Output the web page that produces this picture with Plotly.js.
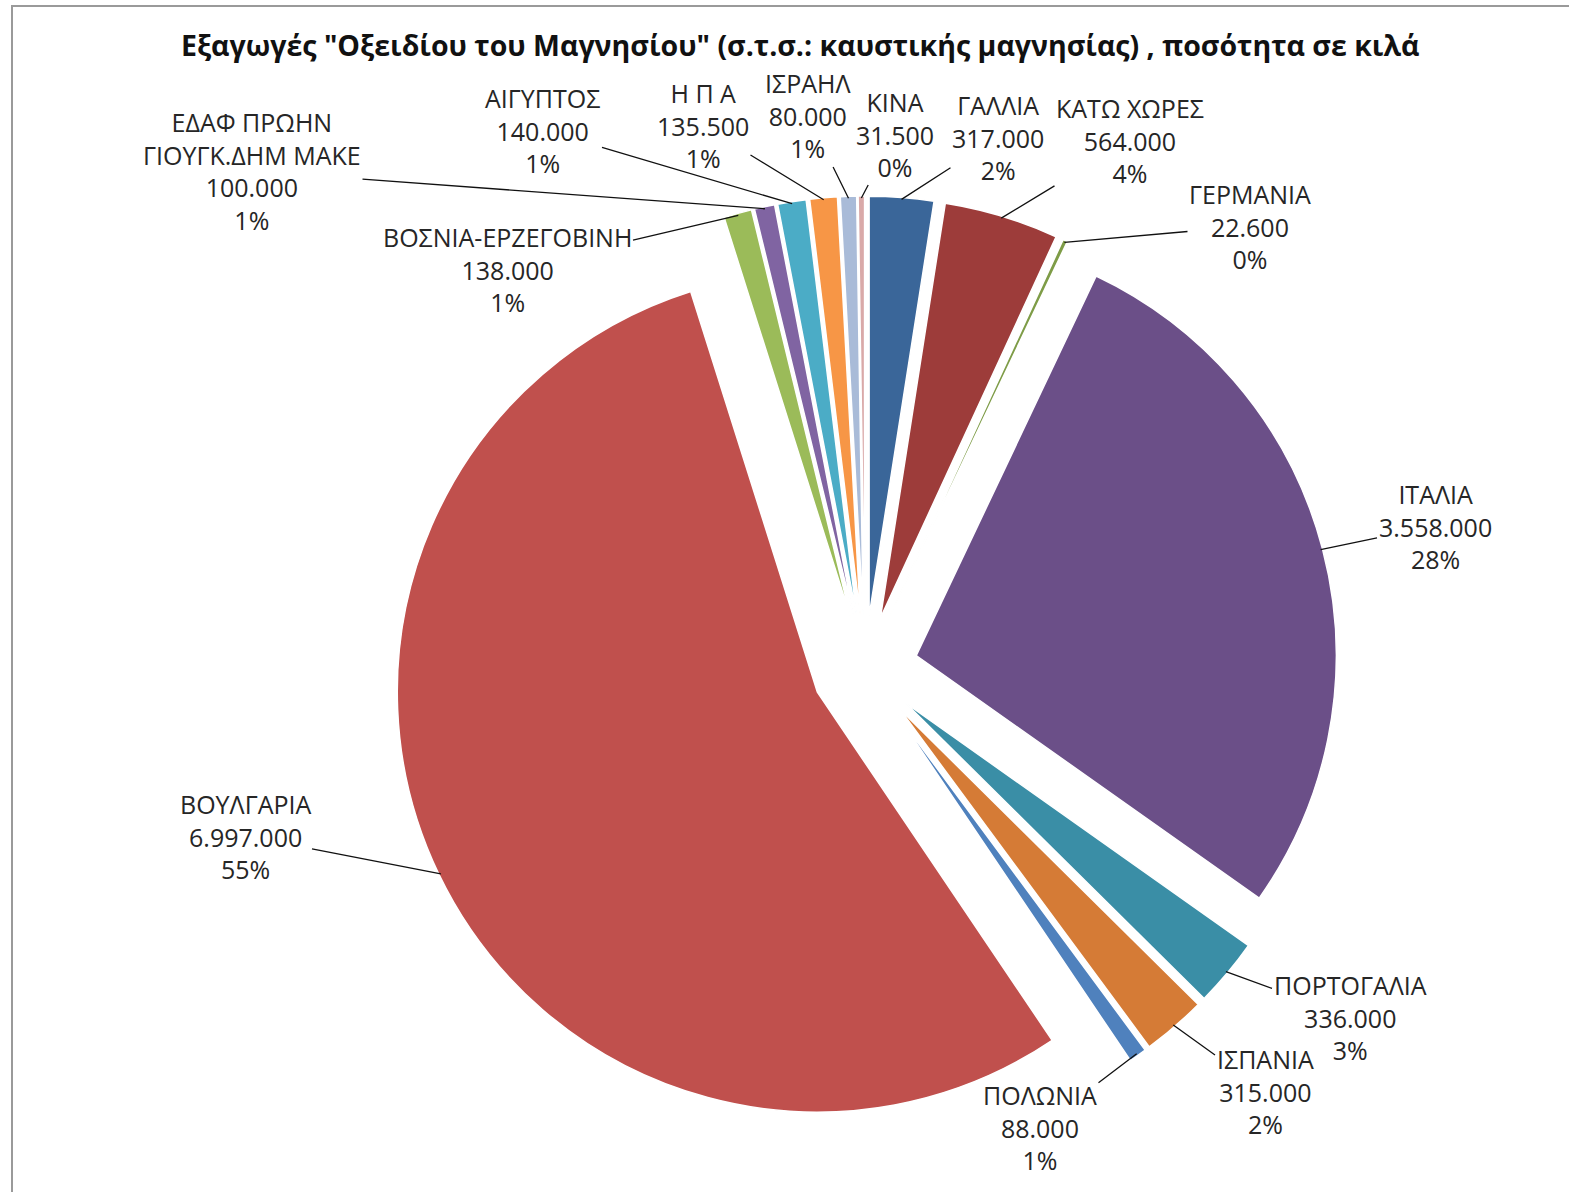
<!DOCTYPE html>
<html>
<head>
<meta charset="utf-8">
<script src="https://cdn.plot.ly/plotly-3.0.1.min.js"></script>
<style>html,body{margin:0;padding:0;background:#fff;}#chart{width:1569px;height:1192px;}</style>
</head>
<body>
<div id="chart"></div>
<script>
// ---- data ----
var categories = ["ΓΑΛΛΙΑ", "ΚΑΤΩ ΧΩΡΕΣ", "ΓΕΡΜΑΝΙΑ", "ΙΤΑΛΙΑ", "ΠΟΡΤΟΓΑΛΙΑ", "ΙΣΠΑΝΙΑ", "ΠΟΛΩΝΙΑ",
  "ΒΟΥΛΓΑΡΙΑ", "ΒΟΣΝΙΑ-ΕΡΖΕΓΟΒΙΝΗ", "ΕΔΑΦ ΠΡΩΗΝ<br>ΓΙΟΥΓΚ.ΔΗΜ ΜΑΚΕ", "ΑΙΓΥΠΤΟΣ", "Η Π Α", "ΙΣΡΑΗΛ", "ΚΙΝΑ"];
var values = [317000, 564000, 22600, 3558000, 336000, 315000, 88000,
  6997000, 138000, 100000, 140000, 135500, 80000, 31500];
var titleText = 'Εξαγωγές "Οξειδίου του Μαγνησίου" (σ.τ.σ.: καυστικής μαγνησίας) , ποσότητα σε κιλά';

// ---- style ----
var colors = ["#3A6699", "#9D3C3A", "#7E9C47", "#6B4F88", "#3A8EA6", "#D57B36", "#4F81BD",
  "#C0504D", "#9BBB59", "#8064A2", "#4BACC6", "#F79646", "#A9BBD8", "#D9A9A8"];
// label block centres (pixels)
var labelPos = [[998,137],[1130,140],[1250,226],[1435,526],[1350,1017],[1265,1091],[1040,1127],
  [245,836],[507,270],[252,171],[543,130],[703,126],[808,116],[895,134]];

var W = 1569, H = 1192;
var pull = 0.126;
var box = {x0: 392, x1: 1338, y0: 196, y1: 1142};

function fmt(v) {
  return String(v).replace(/\B(?=(\d{3})+(?!\d))/g, ".");
}

var total = values.reduce(function(a, b){ return a + b; }, 0);
var cx = (box.x0 + box.x1) / 2, cy = (box.y0 + box.y1) / 2;
var r = Math.min(box.x1 - box.x0, box.y1 - box.y0) / 2 / (1 + pull);

var annotations = [];
var cum = 0;
for (var i = 0; i < values.length; i++) {
  var mid = (cum + values[i] / 2) / total * 2 * Math.PI;
  cum += values[i];
  var dist = r * (1 + pull) - 2;
  var px = cx + dist * Math.sin(mid);
  var py = cy - dist * Math.cos(mid);
  var txt = categories[i] + "<br>" + fmt(values[i]) + "<br>" + Math.round(values[i] / total * 100) + "%";
  annotations.push({
    xref: "paper", yref: "paper",
    x: px / W, y: 1 - py / H,
    ax: labelPos[i][0] - px, ay: labelPos[i][1] - py,
    showarrow: true, arrowhead: 0, arrowwidth: 1.3, arrowcolor: "#111",
    standoff: 0, startstandoff: 0,
    text: txt, align: "center",
    font: {family: "Open Sans, Noto Sans, sans-serif", size: 25, color: "#262626"}
  });
}

var trace = {
  type: "pie",
  labels: categories,
  values: values,
  sort: false,
  direction: "clockwise",
  rotation: 0,
  pull: pull,
  textinfo: "none",
  hoverinfo: "label+value+percent",
  marker: {colors: colors, line: {color: "#ffffff", width: 1.5}},
  domain: {x: [box.x0 / W, box.x1 / W], y: [1 - box.y1 / H, 1 - box.y0 / H]},
  showlegend: false
};

var layout = {
  width: W, height: H,
  margin: {l: 0, r: 0, t: 0, b: 0},
  paper_bgcolor: "#ffffff",
  showlegend: false,
  title: {
    text: "<b>" + titleText + "</b>",
    x: 0.51, xanchor: "center", y: 1 - 46 / H, yanchor: "middle",
    font: {family: "Open Sans, Noto Sans, sans-serif", size: 28.5, color: "#111"}
  },
  annotations: annotations,
  shapes: [{
    type: "rect", xref: "paper", yref: "paper",
    x0: 12 / W, x1: 1.01, y0: -0.01, y1: 1 - 6 / H,
    line: {color: "#9a9a9a", width: 2}
  }]
};

Plotly.newPlot("chart", [trace], layout, {displayModeBar: false, staticPlot: true});
</script>
</body>
</html>
